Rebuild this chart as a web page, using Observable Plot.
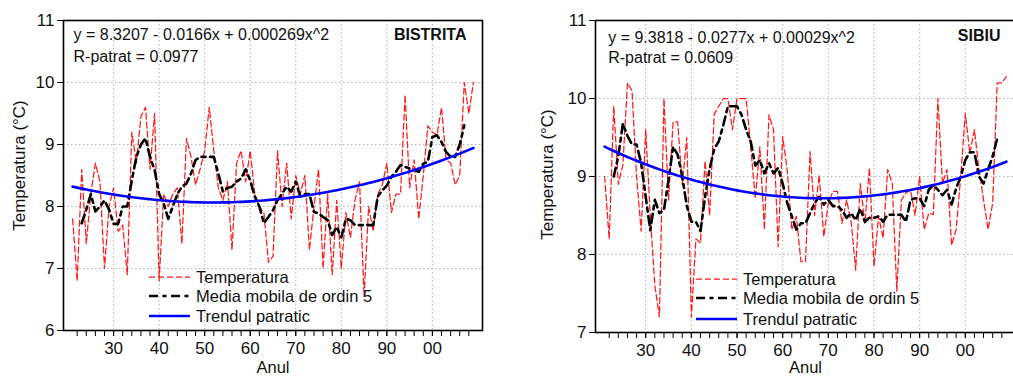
<!DOCTYPE html>
<html>
<head>
<meta charset="utf-8">
<script src="https://cdn.jsdelivr.net/npm/d3@7"></script>
<script src="https://cdn.jsdelivr.net/npm/@observablehq/plot@0.6"></script>
<style>
  html, body { margin: 0; padding: 0; background: #fff; overflow: hidden; }
  #wrap { position: relative; width: 1013px; height: 377px; overflow: hidden; }
  .panel { position: absolute; top: 0; }
  svg { font-family: "Liberation Sans", Arial, sans-serif; }
</style>
</head>
<body>
<div id="wrap"></div>
<script>
// Annual mean temperature, 1921-2009
const years = d3.range(1921, 2010);
// Centered 5-year moving average, 1923-2007
const maYears = d3.range(1923, 2008);

const bistritaTemp = [
  7.8, 6.8, 8.6, 7.4, 8.2, 8.7, 8.4, 7.0, 8.0, 8.3,
  7.6, 7.7, 6.9, 9.2, 8.7, 9.45, 9.6, 8.6, 9.5, 6.8,
  8.2, 8.0, 8.2, 8.3, 7.4, 9.1, 8.8, 8.35, 8.6, 8.9,
  9.6, 8.9, 8.3, 8.1, 8.4, 7.3, 8.7, 8.9, 8.4, 8.9,
  8.2, 8.0, 7.9, 7.1, 7.2, 8.9, 8.0, 8.7, 7.8, 8.5,
  8.2, 8.5, 7.3, 8.0, 8.6, 7.0, 8.2, 6.9, 8.1, 7.0,
  7.9, 7.5, 8.1, 8.4, 6.55, 8.0, 7.6, 8.2, 8.35, 8.7,
  7.9, 8.2, 8.2, 9.8, 8.3, 8.75, 7.8, 8.5, 9.3, 9.2,
  9.15, 9.6, 8.75, 8.7, 8.35, 8.5, 10.0, 9.5, 10.0
];
const bistritaMA = [
  7.73, 7.95, 8.2, 7.92, 8.0, 8.1, 7.95, 7.72,
  7.72, 8.0, 8.0, 8.42, 8.8, 9.0, 9.1, 8.8, 8.59, 8.2,
  8.05, 7.8, 8.0, 8.2, 8.32, 8.37, 8.53, 8.75, 8.8, 8.8,
  8.8, 8.8, 8.53, 8.24, 8.3, 8.32, 8.4, 8.45, 8.6, 8.42,
  8.16, 8.0, 7.73, 7.83, 7.94, 8.1, 8.21, 8.32, 8.24, 8.4,
  8.16, 8.2, 8.2, 7.91, 7.89, 7.83, 7.78, 7.54, 7.67, 7.5,
  7.8, 7.78, 7.7, 7.7, 7.7, 7.7, 7.7, 8.16, 8.26, 8.34,
  8.48, 8.56, 8.67, 8.64, 8.61, 8.59, 8.56, 8.69, 8.72, 9.12,
  9.15, 9.04, 8.88, 8.8, 8.8, 9.0, 9.31
];
const sibiuTemp = [
  9.0, 8.2, 9.9, 8.9, 9.15, 10.2, 10.1, 9.0, 8.3, 9.6,
  8.5, 7.6, 7.2, 10.0, 8.7, 9.7, 9.7, 8.9, 9.5, 7.2,
  8.2, 8.15, 9.2, 8.5, 9.8, 9.9, 10.0, 10.0, 9.6, 10.0,
  10.0, 10.0, 9.38, 8.72, 9.38, 8.32, 9.79, 9.6, 8.1, 9.51,
  9.08, 8.32, 8.49, 7.91, 7.91, 9.32, 8.5, 9.02, 8.23, 8.66,
  8.81, 8.81, 8.4, 8.7, 8.42, 7.8, 8.91, 8.4, 9.11, 7.85,
  8.49, 8.21, 9.09, 8.91, 7.53, 8.7, 8.79, 8.83, 8.5, 9.0,
  8.32, 8.53, 8.51, 10.0, 8.91, 9.09, 8.12, 8.32, 9.0, 9.81,
  9.3, 9.6, 9.09, 8.7, 8.32, 8.66, 10.2, 10.2, 10.28
];
const sibiuMA = [
  9.0, 9.26, 9.68, 9.52, 9.41, 9.41, 9.17, 8.74,
  8.31, 8.7, 8.53, 8.57, 8.96, 9.38, 9.28, 9.0, 8.62, 8.42,
  8.42, 8.3, 8.74, 9.1, 9.35, 9.45, 9.66, 9.9, 9.9, 9.9,
  9.79, 9.6, 9.45, 9.14, 9.21, 9.04, 9.17, 9.04, 9.11, 8.91,
  8.66, 8.49, 8.32, 8.4, 8.4, 8.53, 8.66, 8.74, 8.64, 8.7,
  8.62, 8.62, 8.57, 8.47, 8.53, 8.44, 8.59, 8.42, 8.47, 8.47,
  8.49, 8.42, 8.51, 8.51, 8.51, 8.51, 8.42, 8.7, 8.72, 8.72,
  8.62, 8.83, 8.89, 8.83, 8.76, 8.83, 8.64, 8.85, 9.0, 9.21,
  9.31, 9.31, 9.0, 8.91, 9.09, 9.26, 9.49
];

// Quadratic trend coefficients [a, b, c] of y = a + b*x + c*x^2 (x = years since 1921)
const bistritaCoef = [8.3207, -0.0166, 0.000269];
const sibiuCoef = [9.3818, -0.0277, 0.00029];
const bistritaR2 = "0.0977";
const sibiuR2 = "0.0609";

// Axis ticks
const minorTickYears = d3.range(1922, 2009, 2);
const decadeYears = [1930, 1940, 1950, 1960, 1970, 1980, 1990, 2000];
const decadeLabels = ["30", "40", "50", "60", "70", "80", "90", "00"];

const legendLabels = ["Temperatura", "Media mobila de ordin 5", "Trendul patratic"];

// Series styling
const seriesColor = ["#ff1a1a", "#000000", "#0000ff"];
const seriesWidth = [1.25, 2.6, 2.6];
const seriesDash = ["6,3", "9,4.5,4,4.5", null];

const FONT = '"Liberation Sans", Arial, sans-serif';

function fmtCoef(v) {
  return String(Math.abs(v));
}

function panel(cfg) {
  const H = 377;
  const tempData = years.map((y, i) => ({year: y, value: cfg.temp[i]}));
  const maData = maYears.map((y, i) => ({year: y, value: cfg.ma[i]}));
  const [a, b, c] = cfg.coef;
  const trendData = years.map(y => {
    const x = y - years[0];
    return {year: y, value: a + b * x + c * x * x};
  });
  const yTicks = d3.range(cfg.yDomain[0], cfg.yDomain[1] + 1);
  const eq = `y = ${a} - ${fmtCoef(b)}x + ${c}x^2`;
  const r2 = `R-patrat = ${cfg.r2}`;

  const svg = Plot.plot({
    width: cfg.width,
    height: H,
    marginLeft: cfg.mL,
    marginRight: cfg.mR,
    marginTop: cfg.mT,
    marginBottom: cfg.mB,
    style: {fontFamily: FONT, fontSize: "16px", color: "#111", background: "transparent", overflow: "visible"},
    x: {domain: [1919, 2011], axis: null},
    y: {domain: cfg.yDomain, axis: null},
    marks: [
      Plot.gridX(decadeYears, {stroke: "#b4b4b4", strokeOpacity: 1, strokeWidth: 1, strokeDasharray: "1.5,2.5"}),
      Plot.gridY(yTicks, {stroke: "#b4b4b4", strokeOpacity: 1, strokeWidth: 1, strokeDasharray: "1.5,2.5"}),
      Plot.lineY(tempData, {x: "year", y: "value", stroke: seriesColor[0], strokeWidth: seriesWidth[0], strokeDasharray: seriesDash[0]}),
      Plot.lineY(maData, {x: "year", y: "value", stroke: seriesColor[1], strokeWidth: seriesWidth[1], strokeDasharray: seriesDash[1]}),
      Plot.lineY(trendData, {x: "year", y: "value", stroke: seriesColor[2], strokeWidth: seriesWidth[2], curve: "natural"}),
      Plot.frame({stroke: "#000", strokeWidth: 1.6}),
      Plot.axisX(minorTickYears, {tickSize: 6, tickFormat: () => "", label: null, stroke: "#000"}),
      Plot.axisX(decadeYears, {tickSize: 6, tickPadding: 5, label: null, stroke: "#000", fontSize: 17,
        tickFormat: d => decadeLabels[decadeYears.indexOf(d)]}),
      Plot.axisY(yTicks, {tickSize: 6, tickPadding: 3, label: null, stroke: "#000", fontSize: 17, tickFormat: d => String(d)}),
      Plot.text([eq], {frameAnchor: "top-left", textAnchor: "start", lineAnchor: "middle", dx: cfg.eqDx, dy: cfg.eqDy, fontSize: 16}),
      Plot.text([r2], {frameAnchor: "top-left", textAnchor: "start", lineAnchor: "middle", dx: cfg.eqDx, dy: cfg.r2Dy, fontSize: 16}),
      Plot.text([cfg.name], {frameAnchor: "top-right", textAnchor: "end", lineAnchor: "middle", dx: -cfg.nameDx, dy: cfg.nameDy, fontSize: 16, fontWeight: "bold"}),
      Plot.text(["Temperatura (°C)"], {frameAnchor: "left", textAnchor: "middle", lineAnchor: "middle", rotate: -90, dx: cfg.yLabDx, dy: cfg.yLabDy, fontSize: 17}),
      Plot.text(["Anul"], {frameAnchor: "bottom", textAnchor: "middle", lineAnchor: "middle", dy: cfg.xLabDy, fontSize: 16.5})
    ]
  });

  // Legend inside the lower-left part of the frame
  const g = d3.select(svg).append("g")
    .attr("font-family", FONT)
    .attr("font-size", 16.5)
    .attr("text-anchor", "start")
    .attr("fill", "#111");
  const x0 = cfg.mL + cfg.legDx;
  const yBottom = H - cfg.mB;
  legendLabels.forEach((label, i) => {
    const y = yBottom - cfg.legRows[i];
    const line = g.append("line")
      .attr("x1", x0).attr("x2", x0 + 41)
      .attr("y1", y).attr("y2", y)
      .attr("stroke", seriesColor[i])
      .attr("stroke-width", seriesWidth[i]);
    if (seriesDash[i]) line.attr("stroke-dasharray", seriesDash[i]);
    g.append("text")
      .attr("x", x0 + 47).attr("y", y).attr("dy", "0.35em")
      .attr("text-anchor", "start")
      .text(label);
  });

  svg.classList.add("panel");
  svg.style.left = cfg.left + "px";
  return svg;
}

const wrap = document.getElementById("wrap");

wrap.appendChild(panel({
  name: "BISTRITA",
  temp: bistritaTemp, ma: bistritaMA, coef: bistritaCoef, r2: bistritaR2,
  yDomain: [6, 11],
  left: 0, width: 500, mL: 63, mR: 18, mT: 20, mB: 47,
  eqDx: 10, eqDy: 14.7, r2Dy: 36, nameDx: 16, nameDy: 14.7,
  yLabDx: -44, yLabDy: -10, xLabDy: 37,
  legDx: 86, legRows: [53, 34, 14]
}));

wrap.appendChild(panel({
  name: "SIBIU",
  temp: sibiuTemp, ma: sibiuMA, coef: sibiuCoef, r2: sibiuR2,
  yDomain: [7, 11],
  left: 510, width: 520, mL: 85, mR: 15, mT: 20, mB: 45,
  eqDx: 12.7, eqDy: 17, r2Dy: 37.5, nameDx: 15, nameDy: 15.8,
  yLabDx: -48, yLabDy: -2, xLabDy: 35,
  legDx: 101, legRows: [53, 34, 13]
}));
</script>
</body>
</html>
